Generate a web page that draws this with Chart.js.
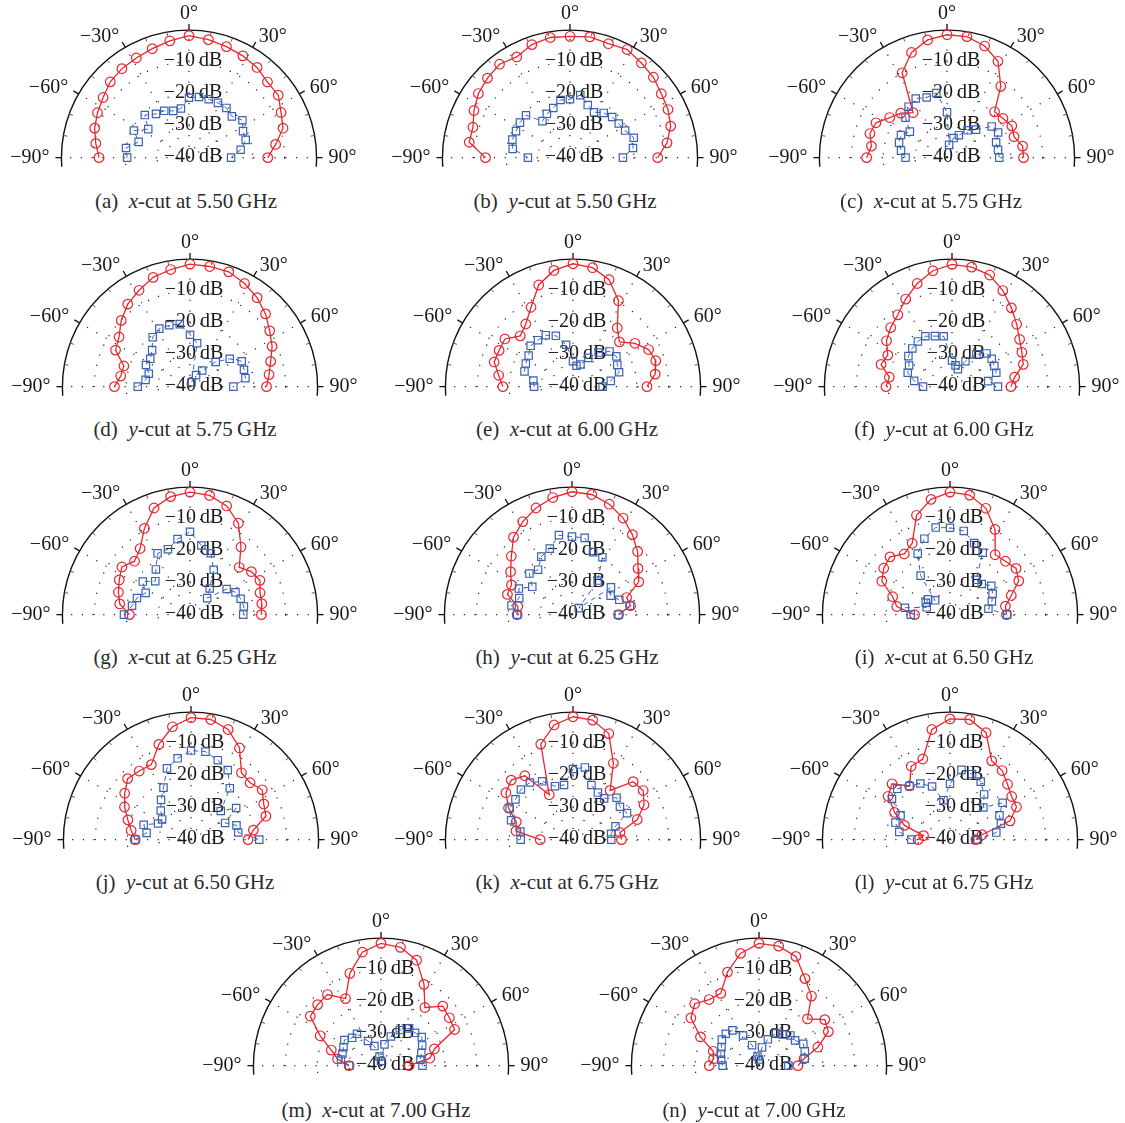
<!DOCTYPE html>
<html>
<head>
<meta charset="utf-8">
<script src="https://cdn.jsdelivr.net/npm/chart.js@4.4.0/dist/chart.umd.min.js"></script>
<style>
  body { margin: 0; background: #fff; width: 1125px; height: 1123px; position: relative; overflow: hidden; font-family: 'Liberation Serif', serif; }
  canvas { position: absolute; }
  .cap { position: absolute; transform: translate(-50%, -50%); font-size: 21px; color: #2b2b2b; white-space: nowrap; }
</style>
</head>
<body>
<script>
// angles of the measured points (deg), one marker every 9 deg
const ANGLES = [-90, -81, -72, -63, -54, -45, -36, -27, -18, -9, 0, 9, 18, 27, 36, 45, 54, 63, 72, 81, 90];
const DB_MIN = -40, DB_MAX = 0;
const RING_DB = [-10, -20, -30, -40];
const ANGLE_LABELS = [-90, -60, -30, 0, 30, 60, 90];

// co-pol (red) and cross-pol (blue) patterns, dB
const A_CO = [-11.8, -10.4, -8.9, -7.8, -6.7, -5.1, -4.2, -3.6, -2.7, -1.5, -0.3, -1.1, -2.0, -2.8, -3.7, -5.2, -5.4, -7.6, -9.0, -12.5, -15.3];
const A_CX = [-20.6, -20, -23.4, -20.6, -24.2, -20.4, -22.4, -22.9, -24, -23.8, -20.5, -20, -20, -20, -20, -21, -19.3, -21, -21.3, -23.6, -26.8];
const B_CO = [-13.5, -8.0, -8.0, -6.2, -4.5, -3.4, -2.4, -3.2, -1.3, -0.4, -0.5, -0.2, -1.0, -0.5, -1.9, -3.0, -4.6, -5.5, -6.8, -9.2, -12.5];
const B_CX = [-26.8, -21.8, -21, -21, -20.6, -20.5, -25.3, -24, -23, -21, -21, -19.4, -22, -23.4, -22, -21.3, -21.1, -20.6, -19, -20, -23.4];
const C_CO = [-14.8, -16, -14.6, -15, -17.8, -19.5, -21.9, -9, -4, -1.2, 0, -0.1, -1.8, -4.8, -11.3, -18.9, -18.3, -17.2, -17.9, -16, -16];
const C_CX = [-27, -25.4, -24.2, -23.8, -25.6, -21.6, -19.5, -18.4, -19.4, -18.7, -25.2, -35.8, -33.3, -31.8, -29, -27.1, -22.7, -22, -23.8, -23.8, -23.6];
const D_CO = [-16.3, -18, -18.2, -13.8, -12.5, -9.5, -6.8, -4.8, -2.6, -1.4, -0.1, -0.4, -0.7, -2.3, -4.2, -6.5, -9.1, -11.1, -13.4, -14.9, -16];
const D_CX = [-23.6, -25.9, -26.4, -24.5, -24.6, -23.2, -20.1, -18.8, -19, -19.4, -23.1, -25.7, -38.5, -35.8, -33.5, -28.6, -24.6, -21.8, -22.2, -22.4, -26.4];
const E_CO = [-18, -16.4, -14, -14, -13.6, -16.6, -14.8, -11, -5.2, -1.7, 0, -0.8, -3.4, -8.6, -16.4, -19.4, -16, -13.4, -12.7, -13.9, -16.8];
const E_CX = [-27.8, -27.4, -24, -23.4, -22.8, -21.2, -21.3, -21.2, -22.6, -26.2, -31.7, -33.1, -32.4, -29.5, -26.3, -23.8, -23.2, -24.4, -24.8, -28, -30.7];
const F_CO = [-19.3, -20.1, -16.6, -17.4, -14.6, -12.8, -11.1, -8, -4.7, -1.8, -0.2, -0.6, -1.8, -4.9, -8.3, -11.3, -13.8, -15.4, -16.5, -20.1, -21.5];
const F_CX = [-30.9, -28, -25.4, -24.9, -23.1, -22.4, -21.8, -21.6, -22.7, -23.4, -31.5, -33, -34, -30.7, -27, -24.7, -24.6, -25.1, -25.4, -28.5, -25.6];
const G_CO = [-21, -17.7, -16.4, -15.1, -13.6, -15.4, -13.4, -8.5, -3.5, -1.1, -0.1, -0.7, -2.8, -6.6, -12.8, -18.2, -16.2, -15.4, -16.9, -17.2, -17.6];
const G_CX = [-19.3, -21.6, -22.5, -24.4, -21.7, -24.6, -21.8, -17.6, -17.6, -15.1, -13, -17.2, -19, -23.6, -29.5, -32.4, -25.8, -24, -23.3, -22.9, -23.3];
const H_CO = [-22.8, -22.8, -18.7, -18.7, -16.2, -13.1, -8.8, -6, -3.5, -1.4, 0, -0.4, -2.2, -4.7, -7.8, -10.9, -14.4, -16.5, -22, -21.4, -25.4];
const H_CX = [-22.8, -20.8, -22.6, -21.3, -24.6, -21.1, -21.9, -18.8, -17.4, -13.8, -14.6, -14.7, -18.6, -19, -26.3, -37, -24.9, -26.4, -24.4, -21.6, -25.4];
const I_CO = [-28.9, -23.1, -21.1, -16, -14.3, -13.4, -15.6, -13.9, -6, -2, -0.1, -0.6, -3.6, -8.9, -15.9, -15.4, -14.4, -15.8, -19.8, -22.4, -22.3];
const I_CX = [-27.7, -25.7, -32.3, -31.5, -31.5, -33.4, -24.3, -17.7, -14, -11.3, -11.7, -12.4, -15.5, -17.4, -26, -25.9, -24, -25, -26.2, -27.8, -22.1];
const J_CO = [-22.5, -21, -19.2, -16.6, -14.3, -11.9, -12.4, -12.6, -7.4, -2.8, -0.3, -0.4, -2.3, -6.5, -13.1, -13.8, -12.4, -14.4, -15.3, -20.2, -22.1];
const J_CX = [-22.5, -25.9, -24.4, -28.4, -28.8, -26.6, -24, -21, -15.6, -13.2, -11, -11, -12.8, -14.6, -19.3, -26.8, -22.5, -28, -25, -25, -18.6];
const K_CO = [-29.7, -21.9, -21.3, -17.3, -14, -12.6, -14.3, -23.6, -7.3, -2.2, 0, -0.6, -3.7, -12.1, -20.2, -13.3, -12.8, -15, -18.8, -25.1, -24.8];
const K_CX = [-23.6, -23.3, -19.6, -17.7, -17.7, -16.9, -17, -18.7, -21.7, -22, -17, -16.2, -21.3, -22.8, -23.4, -20.7, -21.8, -21, -26, -27.9, -28];
const L_CO = [-30, -31.6, -25, -20.5, -16, -14.3, -18.4, -13.2, -12.4, -3.7, -0.7, -0.4, -3.4, -11.2, -12.2, -14.5, -16.1, -16.6, -20.2, -29.8, -31.9];
const L_CX = [-27.9, -23.9, -22, -22.6, -17.5, -16.6, -18.4, -19.5, -21.8, -27, -21.8, -17, -17.6, -18.8, -21.8, -25.2, -19.6, -22.6, -23.2, -25.3, -31.4];
const M_CO = [-30, -26.2, -23.6, -18.6, -12.6, -11.9, -11.4, -15.5, -8.4, -2.6, -0.2, -1, -3.9, -10.3, -16.6, -12.6, -13.5, -14.1, -22.4, -24.5, -31.2];
const M_CX = [-30, -27.3, -27.3, -26.8, -25.8, -27.2, -27.2, -31, -33.3, -37, -38.5, -33, -30, -27, -25, -24.9, -24.2, -25.5, -26.7, -27.5, -27];
const N_CO = [-24.4, -25.6, -24.9, -19.4, -13.6, -11.5, -13.4, -13.6, -8, -3, -0.2, -0.6, -2.6, -8.2, -12, -18.5, -14.5, -15.6, -20.6, -25.7, -27.8];
const N_CX = [-28.6, -28, -27.4, -26.8, -25.6, -25.3, -25.8, -29, -33, -37, -38, -34, -31, -28.2, -27.5, -26.1, -26, -24.4, -24.9, -25.5, -30.8];

const LETTERS = ['a', 'b', 'c', 'd', 'e', 'f', 'g', 'h', 'i', 'j', 'k', 'l', 'm', 'n'];
const CUTS = ['x', 'y', 'x', 'y', 'x', 'y', 'x', 'y', 'x', 'y', 'x', 'y', 'x', 'y'];
const FREQS = ['5.50', '5.50', '5.75', '5.75', '6.00', '6.00', '6.25', '6.25', '6.50', '6.50', '6.75', '6.75', '7.00', '7.00'];
const CO_SERIES = [A_CO, B_CO, C_CO, D_CO, E_CO, F_CO, G_CO, H_CO, I_CO, J_CO, K_CO, L_CO, M_CO, N_CO];
const CX_SERIES = [A_CX, B_CX, C_CX, D_CX, E_CX, F_CX, G_CX, H_CX, I_CX, J_CX, K_CX, L_CX, M_CX, N_CX];

// layout: pole position of each panel and caption centre
const POLES = [[189, 163], [570, 163], [947, 163], [190, 392], [573, 392], [952, 392],
               [190, 620], [572, 620], [950, 620], [191, 845], [573, 845], [950, 845],
               [381, 1071], [759, 1071]];
const CAPTIONS = [[186, 201], [565, 201], [931, 201], [185, 429], [567, 429], [944, 429],
                  [185, 657], [567, 657], [944, 657], [185, 882], [567, 882], [944, 882],
                  [376, 1110], [754, 1110]];

const RADIUS = 132;     // px for 0 dB
const W = 380, H = 185, POLE_TOP = 170;

const RED = '#e8262d';
const BLUE = '#3b62b2';
const INK = '#1a1818';

function toXY(dbs) {
    return dbs.map((db, i) => {
        const r = (db - DB_MIN) / (DB_MAX - DB_MIN);
        const t = ANGLES[i] * Math.PI / 180;
        return { x: r * Math.sin(t), y: r * Math.cos(t) };
    });
}

function minus(n) {
    return n < 0 ? '\u2212' + Math.abs(n) : String(n);
}

const polarGrid = {
    id: 'polarGrid',
    beforeDatasetsDraw(chart) {
        const { ctx, scales: { x, y } } = chart;
        const ox = x.getPixelForValue(0), oy = y.getPixelForValue(0);
        const R = x.getPixelForValue(1) - ox;
        const rOf = db => R * (db - DB_MIN) / (DB_MAX - DB_MIN);

        ctx.save();
        ctx.beginPath();
        ctx.rect(0, 0, chart.width, oy + 9);
        ctx.clip();

        // dotted rings and spokes
        ctx.strokeStyle = '#222';
        ctx.lineWidth = 1.2;
        ctx.setLineDash([1.2, 9.5]);
        RING_DB.slice(0, 3).forEach(db => {
            ctx.beginPath();
            ctx.arc(ox, oy, rOf(db), 0, Math.PI * 2);
            ctx.stroke();
        });
        ANGLE_LABELS.forEach(a => {
            const t = a * Math.PI / 180;
            ctx.beginPath();
            ctx.moveTo(ox, oy);
            ctx.lineTo(ox + R * Math.sin(t), oy - R * Math.cos(t));
            ctx.stroke();
        });

        // outer circle
        ctx.setLineDash([]);
        ctx.strokeStyle = '#111';
        ctx.lineWidth = 1.4;
        ctx.beginPath();
        ctx.arc(ox, oy, R, 0, Math.PI * 2);
        ctx.stroke();
        ctx.restore();

        // ticks
        ctx.save();
        for (let a = -90; a <= 90; a += 10) {
            const t = a * Math.PI / 180, s = Math.sin(t), c = Math.cos(t);
            const major = a % 30 === 0;
            const r0 = major ? R : R - 4, r1 = major ? R + 6 : R;
            ctx.strokeStyle = major ? '#111' : '#6b5548';
            ctx.lineWidth = major ? 1.3 : 1;
            ctx.beginPath();
            ctx.moveTo(ox + r0 * s, oy - r0 * c);
            ctx.lineTo(ox + r1 * s, oy - r1 * c);
            ctx.stroke();
        }

        // angle labels
        ctx.fillStyle = INK;
        ctx.font = '20px "Liberation Serif"';
        ctx.textBaseline = 'middle';
        ANGLE_LABELS.forEach(a => {
            const t = a * Math.PI / 180, d = R + 12;
            let px = ox + d * Math.sin(t), py = oy - d * Math.cos(t);
            if (a === 0) { ctx.textAlign = 'center'; py -= 4; }
            else { ctx.textAlign = a > 0 ? 'left' : 'right'; }
            ctx.fillText(minus(a) + '\u00b0', px, py);
        });

        // dB labels along the 0 deg spoke
        ctx.font = '20px "Liberation Serif"';
        ctx.textAlign = 'center';
        RING_DB.forEach(db => {
            ctx.fillText(minus(db) + '\u2009dB', ox + 4, oy - rOf(db) - 1);
        });
        ctx.restore();
    }
};

LETTERS.forEach((letter, i) => {
    const [px, py] = POLES[i];
    const canvas = document.createElement('canvas');
    canvas.width = W;
    canvas.height = H;
    canvas.style.left = (px - W / 2) + 'px';
    canvas.style.top = (py - POLE_TOP) + 'px';
    document.body.appendChild(canvas);

    new Chart(canvas.getContext('2d'), {
        type: 'scatter',
        data: {
            datasets: [{
                data: toXY(CX_SERIES[i]),
                showLine: true,
                borderColor: BLUE,
                borderWidth: 1,
                borderDash: [5, 4],
                pointStyle: 'rect',
                pointRadius: 5.2,
                pointBorderColor: BLUE,
                pointBorderWidth: 1.2,
                pointBackgroundColor: 'rgba(0,0,0,0)',
                clip: false
            }, {
                data: toXY(CO_SERIES[i]),
                showLine: true,
                borderColor: RED,
                borderWidth: 1.3,
                pointStyle: 'circle',
                pointRadius: 4.8,
                pointBorderColor: RED,
                pointBorderWidth: 1.2,
                pointBackgroundColor: 'rgba(0,0,0,0)',
                clip: false
            }]
        },
        options: {
            responsive: false,
            animation: false,
            events: [],
            layout: { padding: 0 },
            plugins: { legend: { display: false }, tooltip: { enabled: false } },
            scales: {
                x: { type: 'linear', display: false, min: -(W / 2) / RADIUS, max: (W / 2) / RADIUS },
                y: { type: 'linear', display: false, min: -(H - POLE_TOP) / RADIUS, max: POLE_TOP / RADIUS }
            }
        },
        plugins: [polarGrid]
    });

    const cap = document.createElement('div');
    cap.className = 'cap';
    cap.style.left = CAPTIONS[i][0] + 'px';
    cap.style.top = CAPTIONS[i][1] + 'px';
    cap.innerHTML = '(' + letter + ')&nbsp;&nbsp;<i>' + CUTS[i] + '</i>-cut at ' + FREQS[i] + '&thinsp;GHz';
    document.body.appendChild(cap);
});
</script>
</body>
</html>
